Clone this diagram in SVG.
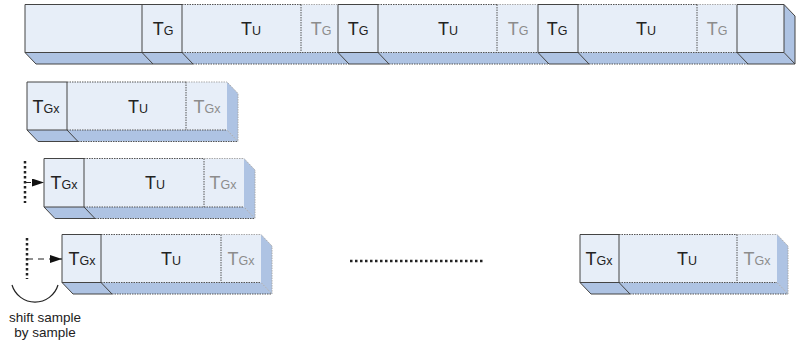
<svg xmlns="http://www.w3.org/2000/svg" width="799" height="345" viewBox="0 0 799 345">
<defs>
<style>
.front{fill:#E7EEF8}
.shade{fill:#AEC3E3}
.solid{fill:none;stroke:#444;stroke-width:1}
.dot{fill:none;stroke:#555;stroke-width:1;stroke-dasharray:1.5 1}
.dotl{fill:none;stroke:#aaa;stroke-width:1;stroke-dasharray:1.5 1}
.t{font-family:"Liberation Sans",Arial,sans-serif;font-size:18px;fill:#222;text-anchor:middle}
.g{fill:#8c8c8c}
.s{font-size:12.5px}
.vdot{fill:none;stroke:#222;stroke-width:2.5;stroke-dasharray:2.5 2.5}
.arr{fill:none;stroke:#222;stroke-width:1.2;stroke-dasharray:6 5}
.note{font-family:"Liberation Sans",Arial,sans-serif;font-size:13.5px;fill:#222;text-anchor:middle}
</style>
<marker id="ah" markerWidth="12" markerHeight="8" refX="12" refY="4" orient="auto" markerUnits="userSpaceOnUse">
<path d="M0,0 L12,4 L0,8 z" fill="#111"/>
</marker>
</defs>

<!-- Row 1 -->
<g id="row1">
<rect class="front" x="25" y="4.5" width="759" height="48"/>
<polygon class="shade" points="25,52.5 784,52.5 795,64 36,64"/>
<polygon class="shade" points="784,4.5 795,16 795,64 784,52.5"/>
<path class="dot" d="M182,4.5 H301 M182,52.5 H338 M193,64 H349 M301,4.5 V52.5"/>
<path class="dotl" d="M301,4.5 H338"/>
<path class="dot" d="M378,4.5 H497 M378,52.5 H538 M389,64 H549 M497,4.5 V52.5"/>
<path class="dotl" d="M497,4.5 H538"/>
<path class="dot" d="M578,4.5 H697 M578,52.5 H737 M589,64 H748 M697,4.5 V52.5"/>
<path class="dotl" d="M697,4.5 H737"/>
<path class="solid" d="M25,4.5 H142 V52.5 H25 Z M25,52.5 L36,64 H153 L142,52.5"/>
<path class="solid" d="M142,4.5 H182 V52.5 H142 M182,52.5 L193,64 H153"/>
<path class="solid" d="M338,4.5 H378 V52.5 H338 Z M338,52.5 L349,64 H389 L378,52.5"/>
<path class="solid" d="M538,4.5 H578 V52.5 H538 Z M538,52.5 L549,64 H589 L578,52.5"/>
<path class="solid" d="M737,4.5 H784 V52.5 H737 Z M737,52.5 L748,64 H795 L784,52.5 M784,4.5 L795,16 V64"/>
<text class="t" x="163" y="35">T<tspan class="s">G</tspan></text>
<text class="t" x="251" y="35">T<tspan class="s">U</tspan></text>
<text class="t g" x="321" y="35">T<tspan class="s">G</tspan></text>
<text class="t" x="358" y="35">T<tspan class="s">G</tspan></text>
<text class="t" x="448" y="35">T<tspan class="s">U</tspan></text>
<text class="t g" x="518" y="35">T<tspan class="s">G</tspan></text>
<text class="t" x="557" y="35">T<tspan class="s">G</tspan></text>
<text class="t" x="646" y="35">T<tspan class="s">U</tspan></text>
<text class="t g" x="717" y="35">T<tspan class="s">G</tspan></text>
</g>

<!-- Row 2 -->
<g id="row2">
<rect class="front" x="27" y="82" width="200" height="48"/>
<polygon class="shade" points="27,130 227,130 238,141.5 38,141.5"/>
<polygon class="shade" points="227,82 238,93.5 238,141.5 227,130"/>
<path class="dot" d="M67,82 H186 M67,130 H227 M78,141.5 H238 M186,82 V130"/>
<path class="dotl" d="M186,82 H227 L238,93.5 V141.5 L227,130"/>
<path class="solid" d="M27,82 H67 V130 H27 Z M27,130 L38,141.5 H78 L67,130"/>
<text class="t" x="46" y="112.5">T<tspan class="s">Gx</tspan></text>
<text class="t" x="138" y="112.5">T<tspan class="s">U</tspan></text>
<text class="t g" x="207" y="112.5">T<tspan class="s">Gx</tspan></text>
</g>

<!-- Row 3 -->
<g id="row3">
<rect class="front" x="44" y="158.5" width="200" height="48.5"/>
<polygon class="shade" points="44,207 244,207 255,218.5 55,218.5"/>
<polygon class="shade" points="244,158.5 255,170 255,218.5 244,207"/>
<path class="dot" d="M84,158.5 H204 M84,207 H244 M95,218.5 H255 M204,158.5 V207"/>
<path class="dotl" d="M204,158.5 H244 L255,170 V218.5 L244,207"/>
<path class="solid" d="M44,158.5 H84 V207 H44 Z M44,207 L55,218.5 H95 L84,207"/>
<text class="t" x="64" y="189">T<tspan class="s">Gx</tspan></text>
<text class="t" x="155" y="189">T<tspan class="s">U</tspan></text>
<text class="t g" x="223" y="189">T<tspan class="s">Gx</tspan></text>
</g>

<!-- Row 4 left -->
<g id="row4a">
<rect class="front" x="62" y="234.5" width="199" height="48"/>
<polygon class="shade" points="62,282.5 261,282.5 272,294 73,294"/>
<polygon class="shade" points="261,234.5 272,246 272,294 261,282.5"/>
<path class="dot" d="M101,234.5 H221 M101,282.5 H261 M112,294 H272 M221,234.5 V282.5"/>
<path class="dotl" d="M221,234.5 H261 L272,246 V294 L261,282.5"/>
<path class="solid" d="M62,234.5 H101 V282.5 H62 Z M62,282.5 L73,294 H112 L101,282.5"/>
<text class="t" x="82" y="265">T<tspan class="s">Gx</tspan></text>
<text class="t" x="171" y="265">T<tspan class="s">U</tspan></text>
<text class="t g" x="241" y="265">T<tspan class="s">Gx</tspan></text>
</g>

<!-- Row 4 right -->
<g id="row4b">
<rect class="front" x="580" y="234.5" width="197" height="48"/>
<polygon class="shade" points="580,282.5 777,282.5 788,294 591,294"/>
<polygon class="shade" points="777,234.5 788,246 788,294 777,282.5"/>
<path class="dot" d="M619,234.5 H737 M619,282.5 H777 M630,294 H788 M737,234.5 V282.5"/>
<path class="dotl" d="M737,234.5 H777 L788,246 V294 L777,282.5"/>
<path class="solid" d="M580,234.5 H619 V282.5 H580 Z M580,282.5 L591,294 H630 L619,282.5"/>
<text class="t" x="599" y="265">T<tspan class="s">Gx</tspan></text>
<text class="t" x="687" y="265">T<tspan class="s">U</tspan></text>
<text class="t g" x="757" y="265">T<tspan class="s">Gx</tspan></text>
</g>

<!-- Connectors -->
<g id="connectors">
<line class="vdot" x1="25" y1="161" x2="25" y2="203"/>
<line class="arr" x1="25" y1="182.5" x2="44" y2="182.5" marker-end="url(#ah)"/>
<line class="vdot" x1="27" y1="238" x2="27" y2="279"/>
<line class="arr" x1="27" y1="259" x2="62" y2="259" marker-end="url(#ah)"/>
<line class="vdot" x1="350" y1="261" x2="484" y2="261" stroke-dasharray="2 3" stroke-width="2"/>
<path d="M12,285 A24,24 0 0 0 58,285" fill="none" stroke="#222" stroke-width="1.2"/>
</g>

<g id="note">
<text class="note" x="45" y="322">shift sample</text>
<text class="note" x="45" y="337">by sample</text>
</g>
</svg>
